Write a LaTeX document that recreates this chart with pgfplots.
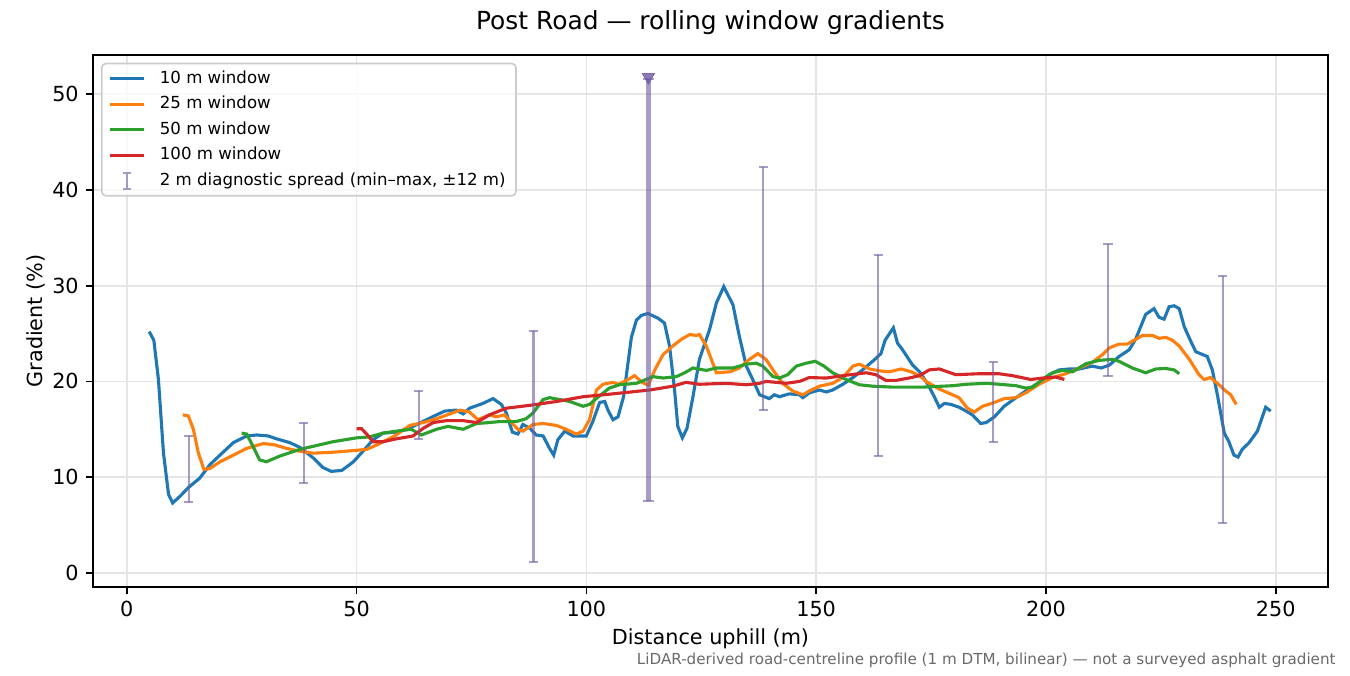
\documentclass[border=0pt]{standalone}
\usepackage{fontspec}
\setmainfont{DejaVu Sans}
\usepackage{pgfplots}
\pgfplotsset{compat=1.18}

\definecolor{c0}{HTML}{1F77B4}
\definecolor{c1}{HTML}{FF7F0E}
\definecolor{c2}{HTML}{2CA02C}
\definecolor{c3}{HTML}{D62728}
\definecolor{spread}{RGB}{110,90,160}
\definecolor{gridgray}{RGB}{229,229,229}
\definecolor{legframe}{RGB}{204,204,204}
\definecolor{notegray}{RGB}{105,105,105}

\begin{document}
\begin{tikzpicture}
\useasboundingbox (-44.95pt,-42.5pt) rectangle (605.45pt,282.7pt);
\begin{axis}[
    at={(0,0)}, anchor=south west,
    scale only axis,
    width=594.7pt, height=256.2pt,
    xmin=-7.27, xmax=261.3,
    ymin=-1.46, ymax=54.1,
    clip mode=individual,
    xtick={0,50,...,250},
    ytick={0,10,...,50},
    tick align=outside,
    tick pos=left,
    major tick length=3.5pt,
    tick style={black, line width=0.8pt},
    axis line style={line width=0.8pt},
    grid=major,
    major grid style={gridgray, line width=0.8pt},
    tick label style={font=\fontsize{10}{12}\selectfont},
    /pgf/number format/assume math mode=true,
    title={Post Road — rolling window gradients},
    title style={at={(axis description cs:0.5,1.0246)}, anchor=base, font=\fontsize{12}{14.4}\selectfont},
    xlabel={Distance uphill (m)},
    xlabel style={at={(axis description cs:0.5,-0.109)}, anchor=base, font=\fontsize{10}{12}\selectfont},
    ylabel={Gradient (\%)},
    ylabel style={at={(axis description cs:-0.0414,0.5)}, anchor=base, rotate=0, font=\fontsize{10}{12}\selectfont},
    legend cell align=left,
    legend image code/.code={\draw[#1] (0pt,0pt) -- (16pt,0pt);},
    legend style={
        at={(0.0062,0.9855)}, anchor=north west,
        draw=legframe, line width=0.8pt, rounded corners=2pt,
        fill=white, fill opacity=0.8, text opacity=1,
        font=\fontsize{8}{9.6}\selectfont,
        inner xsep=3.4pt, inner ysep=2.4pt,
        row sep=2.6pt, column sep=5.5pt,
        nodes={inner xsep=1.6pt, inner ysep=1pt, text height=6pt, text depth=1.7pt},
    },
]

% 10 m window
\addplot[c0, line width=1.5pt] coordinates {
(4.9,25.2) (5.9,24.3) (6.9,20.2) (8.0,12.5) (9.1,8.2) (10.0,7.3) (11.6,8.0)
(13.4,8.9) (15.9,9.9) (18.1,11.3) (20.3,12.3) (23.2,13.6) (26.1,14.3) (28.3,14.4)
(30.8,14.3) (32.6,14.0) (35.5,13.6) (37.7,13.1) (40.6,12.0) (42.7,11.0) (44.5,10.6)
(46.8,10.7) (48.5,11.3) (49.3,11.6) (51.4,12.7) (53.6,13.9) (55.8,14.6) (58.7,14.7)
(61.5,15.1) (64.4,15.8) (67.4,16.5) (69.2,16.9) (71.7,17.0) (73.2,16.6) (74.6,17.2)
(77.5,17.7) (79.7,18.2) (81.5,17.6) (82.6,16.7) (83.9,14.7) (85.1,14.5) (86.2,15.5)
(87.7,15.1) (89.1,14.4) (90.6,14.3) (92.0,13.0) (92.9,12.3) (93.8,13.9) (95.3,14.8)
(97.1,14.3) (100.0,14.3) (101.4,15.8) (102.9,17.8) (104.0,17.9) (104.7,17.0)
(105.8,16.0) (106.9,16.3) (108.1,18.4) (109.8,24.6) (110.9,26.4) (112.0,26.9)
(113.4,27.1) (115.6,26.6) (117.0,26.1) (118.1,23.7) (119.2,19.1) (119.9,15.3)
(120.9,14.1) (121.9,15.1) (123.2,18.4) (124.6,22.3) (126.8,25.4) (128.3,28.2)
(129.9,29.9) (131.9,28.0) (133.3,24.7) (134.8,21.6) (136.2,20.2) (137.7,18.6)
(139.8,18.2) (140.9,18.6) (142.0,18.4) (144.2,18.7) (146.4,18.6) (147.1,18.3)
(148.5,18.8) (150.7,19.1) (152.2,18.9) (153.6,19.1) (155.8,19.7) (158.0,20.4)
(160.1,21.2) (163.0,22.4) (164.1,22.9) (165.0,24.3) (166.8,25.6) (167.7,24.0)
(168.8,23.3) (171.0,21.7) (172.5,21.0) (174.3,19.7) (175.7,18.4) (176.8,17.3)
(177.9,17.7) (179.3,17.6) (181.1,17.3) (182.6,16.9) (184.0,16.5) (185.8,15.6)
(187.0,15.7) (188.8,16.3) (190.9,17.4) (193.5,18.3) (195.6,19.0) (198.2,19.8)
(200.7,20.7) (202.9,21.2) (205.1,21.3) (207.3,21.3) (210.1,21.6) (212.0,21.4)
(213.8,21.7) (215.9,22.6) (218.1,23.3) (219.5,24.4) (221.7,27.0) (223.5,27.6)
(224.6,26.7) (225.7,26.5) (226.8,27.8) (227.9,27.9) (229.0,27.6) (230.1,25.7)
(231.5,24.2) (232.6,23.1) (234.1,22.8) (235.1,22.6) (236.2,21.2) (237.3,18.6)
(238.8,14.6) (239.8,13.7) (240.9,12.3) (241.8,12.1) (242.7,12.9) (244.2,13.6)
(246.0,14.8) (247.8,17.3) (248.9,16.9)
};
\addlegendentry{10 m window}

% 25 m window
\addplot[c1, line width=1.5pt] coordinates {
(12.2,16.5) (13.4,16.4) (14.5,15.0) (15.6,12.5) (16.8,10.8) (18.1,10.9) (20.3,11.6)
(23.2,12.3) (26.1,13.0) (29.7,13.5) (31.9,13.4) (34.8,13.0) (37.7,12.7) (40.6,12.5)
(44.9,12.6) (50.0,12.8) (52.2,12.9) (54.6,13.4) (58.3,14.3) (61.6,15.4) (64.5,15.7)
(67.4,16.1) (70.3,16.6) (72.5,17.0) (74.6,16.8) (76.4,16.0) (78.9,16.5) (80.4,16.3)
(82.2,16.5) (83.7,15.7) (85.1,15.0) (86.2,14.8) (88.4,15.5) (90.6,15.6) (93.5,15.4)
(95.6,15.0) (97.8,14.5) (99.3,14.8) (100.7,16.0) (102.2,19.1) (103.6,19.7)
(105.8,19.9) (107.0,19.7) (108.7,20.1) (110.5,20.6) (112.1,19.9) (113.5,19.6)
(114.9,21.2) (116.7,22.8) (118.8,23.7) (120.7,24.4) (122.5,24.9) (123.9,24.8)
(124.6,24.9) (126.1,23.7) (128.3,20.9) (131.2,21.0) (133.3,21.4) (135.5,22.3)
(137.3,22.9) (139.1,22.3) (140.6,21.2) (142.7,19.8) (144.9,19.0) (147.1,18.6)
(148.5,19.0) (150.7,19.5) (153.6,19.8) (155.8,20.4) (158.0,21.6) (159.4,21.8)
(161.6,21.3) (163.8,21.1) (165.9,21.0) (168.5,21.3) (170.7,21.0) (172.5,20.6)
(173.9,20.0) (176.8,19.2) (181.1,18.3) (182.9,17.2) (184.4,16.8) (186.2,17.4)
(188.8,17.8) (190.9,18.2) (193.5,18.3) (195.6,18.8) (198.5,19.7) (201.4,20.4)
(204.3,20.8) (207.3,21.4) (210.1,22.0) (212.3,22.8) (213.8,23.5) (215.9,23.9)
(217.7,23.9) (218.8,24.2) (221.0,24.8) (223.2,24.8) (224.6,24.5) (226.1,24.6)
(227.5,24.3) (229.0,23.7) (231.2,22.3) (233.3,20.7) (234.4,20.2) (235.8,20.4)
(237.3,19.8) (239.1,19.0) (240.2,18.6) (241.4,17.6)
};
\addlegendentry{25 m window}

% 50 m window
\addplot[c2, line width=1.5pt] coordinates {
(25.0,14.6) (26.1,14.5) (27.5,13.2) (28.9,11.8) (30.4,11.6) (33.3,12.2) (37.7,12.9)
(41.3,13.3) (44.9,13.7) (50.0,14.1) (52.8,14.2) (55.8,14.6) (58.7,14.8) (61.9,15.0)
(64.1,14.4) (67.4,15.0) (69.9,15.3) (73.2,15.0) (76.1,15.6) (78.9,15.7) (81.1,15.8)
(84.7,15.8) (86.9,16.1) (88.4,16.7) (90.6,18.1) (92.0,18.3) (96.4,17.9) (99.3,17.4)
(100.7,17.6) (102.9,18.5) (105.0,19.3) (107.2,19.65) (110.9,19.8) (113.0,20.2)
(114.5,20.5) (116.7,20.35) (119.6,20.5) (121.4,20.9) (123.2,21.4) (126.1,21.15)
(128.3,21.4) (131.9,21.4) (134.8,21.8) (137.0,21.9) (138.4,21.6) (140.6,20.5)
(142.0,20.35) (143.8,20.7) (145.7,21.6) (147.8,21.9) (149.8,22.1) (151.7,21.6)
(153.6,20.9) (156.5,20.2) (159.4,19.65) (162.3,19.5) (166.7,19.4) (173.2,19.4)
(179.7,19.55) (182.6,19.7) (187.0,19.8) (189.9,19.7) (193.5,19.55) (195.6,19.3)
(197.1,19.4) (199.3,20.2) (201.4,20.9) (203.6,21.15) (205.8,21.0) (208.7,21.85)
(211.6,22.2) (214.5,22.3) (215.9,22.1) (218.8,21.4) (221.7,20.9) (223.9,21.3)
(226.1,21.35) (227.9,21.2) (229.0,20.8)
};
\addlegendentry{50 m window}

% 100 m window
\addplot[c3, line width=1.5pt] coordinates {
(50.0,15.05) (51.1,15.05) (52.2,14.5) (53.6,13.7) (55.8,13.7) (58.7,14.0) (62.3,14.3)
(64.5,15.1) (66.7,15.7) (69.6,15.9) (73.2,15.9) (76.1,15.7) (78.9,16.5) (82.6,17.2)
(87.7,17.5) (93.5,17.9) (99.3,18.4) (105.8,18.7) (113.8,19.1) (118.8,19.5)
(121.7,19.9) (124.6,19.7) (130.4,19.8) (134.8,19.65) (137.7,19.8) (139.1,20.0)
(143.5,19.8) (146.4,20.0) (148.5,20.4) (152.2,20.35) (155.8,20.6) (160.9,20.9)
(163.0,20.7) (165.2,20.1) (167.3,20.1) (170.2,20.35) (172.5,20.6) (174.6,21.2)
(176.8,21.3) (180.4,20.7) (185.4,20.8) (189.8,20.8) (192.7,20.6) (196.7,20.2)
(199.3,20.35) (202.2,20.45) (204.0,20.2)
};
\addlegendentry{100 m window}

% 2 m diagnostic spread (min-max)
\addplot[draw=none, mark=none,
    legend image code/.code={
        \draw[spread, opacity=0.6, line width=1pt]
            (8pt,-3.8pt) -- (8pt,3.8pt)
            (6.2pt,-3.8pt) -- (9.8pt,-3.8pt)
            (6.2pt,3.8pt) -- (9.8pt,3.8pt);},
    error bars/.cd, y dir=both, y explicit,
    error bar style={draw=spread, opacity=0.6, line width=1pt},
    error mark options={rotate=90, draw=spread, opacity=0.6, line width=1pt, mark size=2.2pt}]
coordinates {
(13.5,7.36) += (0,6.89) -= (0,0)
(38.5,9.34) += (0,6.36) -= (0,0)
(63.5,13.95) += (0,5.01) -= (0,0)
(88.5,1.16) += (0,24.14) -= (0,0)
(138.5,17.05) += (0,25.35) -= (0,0)
(163.5,12.17) += (0,21.03) -= (0,0)
(188.5,13.7) += (0,8.3) -= (0,0)
(213.5,20.6) += (0,13.8) -= (0,0)
(238.5,5.2) += (0,25.8) -= (0,0)
};
\addlegendentry{2 m diagnostic spread (min–max, ±12 m)}

% clipped spread at 113.5 m
\addplot[forget plot, draw=none, mark=none,
    error bars/.cd, y dir=both, y explicit,
    error bar style={draw=spread, opacity=0.6, line width=2.3pt},
    error mark options={rotate=90, draw=spread, opacity=0.6, line width=1pt, mark size=2.6pt}]
coordinates {(113.5,7.53) += (0,44.1) -= (0,0)};
\addplot[forget plot, only marks, mark=triangle*, mark size=3.4pt,
    mark options={rotate=180, fill=spread, draw=spread, fill opacity=0.8, draw opacity=0.8}]
coordinates {(113.5,51.8)};

\node[anchor=base east, font=\fontsize{7.3}{8.8}\selectfont, text=notegray, inner sep=0pt]
    at (axis description cs:1.0067,-0.1454)
    {LiDAR-derived road-centreline profile (1 m DTM, bilinear) — not a surveyed asphalt gradient};
\end{axis}
\end{tikzpicture}
\end{document}
